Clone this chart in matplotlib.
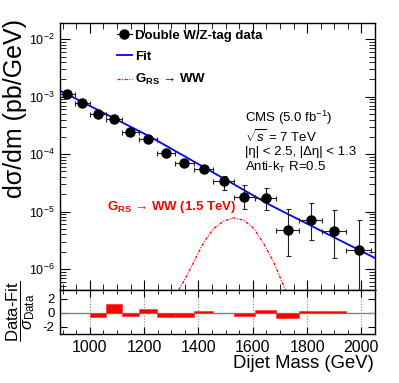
import matplotlib
matplotlib.use("Agg")
import matplotlib.pyplot as plt
from matplotlib.lines import Line2D
from matplotlib.ticker import MultipleLocator, FixedLocator, LogLocator, NullFormatter
import numpy as np

# bins of the dijet mass spectrum (GeV)
bin_edges = [890, 944, 1000, 1058, 1118, 1181, 1246, 1313, 1383, 1455,
             1530, 1607, 1687, 1770, 1856, 1945, 2037]

xsec = [1.11e-3, 7.7e-4, 5.09e-4, 4.17e-4, 2.44e-4, 1.87e-4, 1.05e-4, 7.15e-5,
        5.52e-5, 3.47e-5, 1.79e-5, 1.75e-5, 4.85e-6, 7.05e-6, 4.54e-6, 2.18e-6]
xsec_up = [1.16e-3, 8.1e-4, 5.4e-4, 4.45e-4, 2.64e-4, 2.04e-4, 1.16e-4, 7.9e-5,
           6.2e-5, 4.17e-5, 2.9e-5, 2.62e-5, 1.127e-5, 1.41e-5, 1.054e-5, 7.26e-6]
xsec_dn = [1.06e-3, 7.3e-4, 4.8e-4, 3.9e-4, 2.25e-4, 1.71e-4, 0.95e-4, 6.4e-5,
           4.85e-5, 2.42e-5, 1.11e-5, 1.08e-5, 1.71e-6, 3.16e-6, 1.58e-6, 1e-9]

# fit curve sampled along the drawn line
fit_mass = [890, 1223, 1493, 1665, 2050]
fit_val = [1.28e-3, 2.0e-4, 3.76e-5, 1.29e-5, 1.55e-6]

# RS graviton -> WW signal shape (1.5 TeV)
sig_mass = [1327, 1358, 1389, 1420, 1456, 1493, 1530, 1567, 1604, 1640, 1677, 1720]
sig_val = [4.3e-7, 7.8e-7, 1.52e-6, 2.95e-6, 5.06e-6, 6.86e-6, 7.74e-6, 7.05e-6,
           5.06e-6, 2.77e-6, 1.32e-6, 4.3e-7]

# (Data-Fit)/sigma per bin
pulls = [0, 0, -0.65, 1.26, -0.42, 0.5, -0.62, -0.58, 0.19, 0,
         -0.5, 0.42, -0.8, 0.26, 0.26, 0]

plt.rcParams['font.family'] = ['Liberation Sans', 'DejaVu Sans']
plt.rcParams['mathtext.fontset'] = 'custom'
plt.rcParams['mathtext.rm'] = 'Liberation Sans'
plt.rcParams['mathtext.it'] = 'Liberation Sans:italic'
plt.rcParams['mathtext.bf'] = 'Liberation Sans:bold'
plt.rcParams['axes.unicode_minus'] = False

W, H = 399, 383
fig = plt.figure(figsize=(W / 100, H / 100), dpi=100)

def fx(px):
    return px / W

def fy(py):
    return 1 - py / H

ax = fig.add_axes([fx(60), fy(290), fx(375) - fx(60), fy(22.7) - fy(290)])
axr = fig.add_axes([fx(60), fy(334), fx(375) - fx(60), fy(290) - fy(334)], sharex=ax)

edges = np.array(bin_edges)
centers = (edges[:-1] + edges[1:]) / 2
half = np.diff(edges) / 2
y = np.array(xsec)
yerr = [y - np.array(xsec_dn), np.array(xsec_up) - y]

ax.set_yscale('log')
ax.plot(fit_mass, fit_val, color='#0000ff', lw=1.3, zorder=2)
ax.plot(sig_mass, sig_val, color='#ff0000', lw=0.9, ls=(0, (2.5, 1.2, 0.8, 1.2)), zorder=2)
ax.errorbar(centers, y, xerr=half, yerr=yerr, fmt='o', color='black', ms=6.5,
            ecolor='#222222', elinewidth=0.8, capsize=1.8, capthick=0.8, zorder=3)

ax.set_xlim(890, 2050)
ax.set_ylim(4.3e-7, 1.95e-2)

for a in (ax, axr):
    a.tick_params(which='both', direction='in', top=True, right=True)
    for s in a.spines.values():
        s.set_linewidth(1)
ax.xaxis.set_major_locator(MultipleLocator(200))
ax.xaxis.set_minor_locator(MultipleLocator(50))
ax.yaxis.set_major_locator(LogLocator(base=10))
ax.yaxis.set_minor_locator(LogLocator(base=10, subs=np.arange(2, 10)))
ax.yaxis.set_minor_formatter(NullFormatter())
ax.tick_params(which='major', length=7, pad=4, labelsize=9)
ax.tick_params(which='minor', length=4)
ax.tick_params(axis='x', labelbottom=False)

# legend
h_data = Line2D([], [], marker='o', color='black', ms=6.5, lw=0.8)
h_fit = Line2D([], [], color='#0000ff', lw=1.3)
h_sig = Line2D([], [], color='#ff0000', lw=0.9, ls=(0, (2.5, 1.2, 0.8, 1.2)))
leg = ax.legend([h_data, h_fit, h_sig],
                ['Double W/Z-tag data', 'Fit', r'$\mathbf{G}_{\mathbf{RS}}$ → WW'],
                loc='upper left', bbox_to_anchor=(0.181, 0.975), frameon=False,
                borderpad=0, borderaxespad=0, handlelength=1.1, handletextpad=0.3,
                labelspacing=0.7, prop={'weight': 'bold', 'size': 9.5})

fig.text(fx(245), fy(118), r'CMS (5.0 fb$^{-1}$)', fontsize=9.5, va='center')
fig.text(fx(245), fy(137), r'$\sqrt{s}$ = 7 TeV', fontsize=9.5, va='center')
fig.text(fx(245), fy(152), '|η| < 2.5, |Δη| < 1.3', fontsize=9.5, va='center')
fig.text(fx(245), fy(167), r'Anti-k$_\mathrm{T}$ R=0.5', fontsize=9.5, va='center')
fig.text(fx(107), fy(207), r'$\mathbf{G}_{\mathbf{RS}}$ → WW (1.5 TeV)', fontsize=9.5,
         fontweight='bold', color='#ff0000', va='center')

fig.text(fx(15), fy(19), 'dσ/dm (pb/GeV)', rotation=90, ha='center', va='top', fontsize=18)

# pull panel
axr.axhline(0, color='#999999', lw=1, zorder=1)
axr.bar(edges[:-1], pulls, width=np.diff(edges), align='edge', color='#ff0000',
        edgecolor='#ff3333', lw=0.5, zorder=2)
axr.set_ylim(-3, 3.2)
axr.yaxis.set_major_locator(FixedLocator([-2, 0, 2]))
axr.tick_params(which='major', length=5, pad=4, labelsize=9.5)
axr.tick_params(which='minor', length=3)
axr.tick_params(axis='x', labelsize=11.5, pad=4)
axr.grid(axis='x', which='major', color='#888888', ls=':', lw=0.8)
axr.set_axisbelow(True)

fig.text(fx(21), fy(311), r'$\dfrac{\mathrm{Data}\text{-}\mathrm{Fit}}{\sigma_{\mathrm{Data}}}$',
         rotation=90, ha='center', va='center', fontsize=12)
fig.text(fx(374), fy(363), 'Dijet Mass (GeV)', ha='right', va='center', fontsize=13.3)

fig.savefig('out.png', dpi=100)
